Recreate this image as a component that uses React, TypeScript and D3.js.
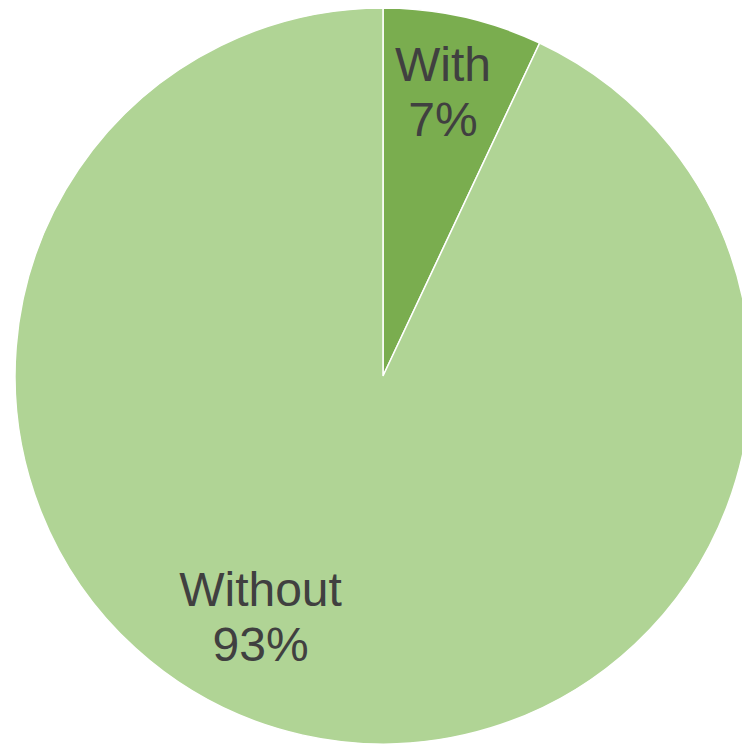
import React from "react";
import * as d3 from "d3";

const categories = ["With", "Without"];
const values = [7, 93];
const colors = ["#7aad4f", "#b0d495"];
const labelRadiusFactor = [0.79, 0.735];
const labelAngleShift = [-0.012, 0.25];

export default function App() {
  const width = 742;
  const height = 745;
  const cx = 383;
  const cy = 376;
  const r = 368;
  const pie = d3.pie<number>().sort(null).value((d) => d)(values);
  const arc = d3.arc<d3.PieArcDatum<number>>().innerRadius(0).outerRadius(r);
  const total = d3.sum(values);
  return (
    <svg
      width={width}
      height={height}
      style={{ position: "absolute", left: 0, top: 0, display: "block" }}
    >
      <rect width={width} height={height} fill="#ffffff" />
      <g transform={`translate(${cx},${cy})`}>
        {pie.map((p, i) => (
          <path key={i} d={arc(p) || ""} fill={colors[i]} stroke="#ffffff" strokeWidth={1.5} />
        ))}
        {pie.map((p, i) => {
          const mid = (p.startAngle + p.endAngle) / 2 + labelAngleShift[i];
          const lr = r * labelRadiusFactor[i];
          const x = Math.sin(mid) * lr;
          const y = -Math.cos(mid) * lr;
          const pct = Math.round((values[i] / total) * 100);
          return (
            <text
              key={"t" + i}
              x={x}
              y={y}
              textAnchor="middle"
              fill="#404040"
              fontFamily="Liberation Sans, Arial, sans-serif"
              fontSize={48}
            >
              <tspan x={x} dy={-11}>{categories[i]}</tspan>
              <tspan x={x} dy={55}>{pct + "%"}</tspan>
            </text>
          );
        })}
      </g>
    </svg>
  );
}
